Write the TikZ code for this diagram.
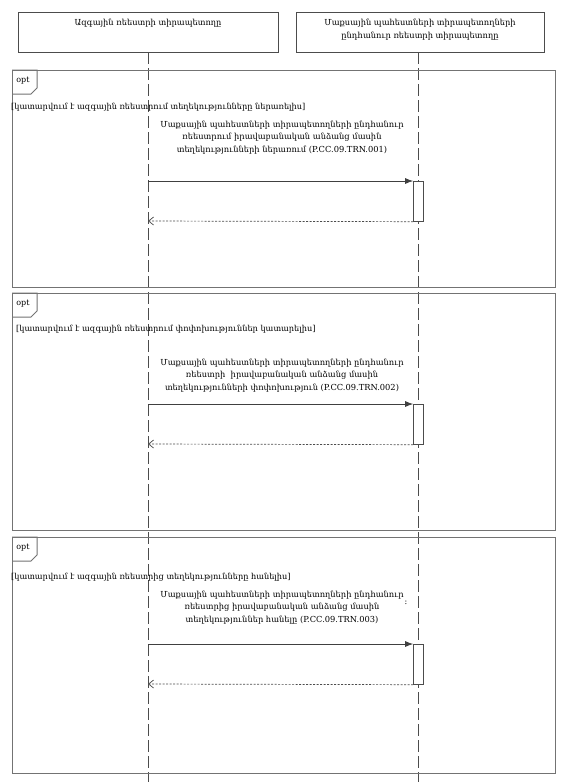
\documentclass[tikz,border=0pt]{standalone}
\usepackage{fontspec}
\setmainfont{DejaVu Serif}
\usetikzlibrary{arrows.meta,positioning,calc}
\tikzset{
  headbox/.style={draw=black!70, line width=0.8pt, minimum width=#1, minimum height=40pt, inner sep=0pt},
  headtext/.style={font=\fontsize{8.3}{13}\selectfont, align=center, inner sep=0pt},
  lifeline/.style={draw=black!70, line width=0.8pt, dash pattern=on 12pt off 4pt},
  fragbox/.style={draw=black!55, line width=1pt},
  optlabel/.style={font=\fontsize{8}{9}\selectfont, inner sep=0pt},
  guardtext/.style={font=\fontsize{8.2}{9}\selectfont, anchor=west, inner sep=0pt},
  msgtext/.style={font=\fontsize{8.3}{12.5}\selectfont, align=center, inner sep=0pt},
  actbox/.style={draw=black!70, fill=white, line width=0.7pt, minimum width=10pt, minimum height=40pt, inner sep=0pt},
  call/.style={-{Latex[length=8pt,width=6pt]}, draw=black!75, line width=0.8pt},
  reply/.style={-{Straight Barb[length=5pt,width=8pt]}, dash pattern=on 2pt off 1.5pt, draw=black!70, line width=0.7pt}
}
\begin{document}
\begin{tikzpicture}[x=1pt, y=-1pt]
  \useasboundingbox[fill=white] (0,0) rectangle (567,782);
  % participants
  \node[headbox=260pt] (hdrA) at (148,32) {};
  \node[headbox=248pt] (hdrB) at (420,32) {};
  \node[headtext, below=7pt of hdrA.north] (hdrAtext) {Ազգային ռեեստրի տիրապետողը};
  \node[headtext, below=7pt of hdrB.north] (hdrBtext) {Մաքսային պահեստների տիրապետողների\\ընդհանուր ռեեստրի տիրապետողը};
  \coordinate (endA) at (148,782);
  \coordinate (endB) at (418.5,782);
  \draw[lifeline] (hdrA.south) -- (endA);
  \draw[lifeline] (hdrB.south -| endB) -- (endB);

  % opt 1
  \draw[fragbox] (12,70) rectangle (555,287);
  \draw[fragbox] (12,70) -| (37,88) -- (31,94) -- (12,94);
  \node[optlabel] (opt1) at (23,81) {opt};
  \node[guardtext] (grd1) at (11,107) {[կատարվում է ազգային ռեեստրում տեղեկությունները ներառելիս]};
  \node[msgtext] (msg1) at (282,137.5) {Մաքսային պահեստների տիրապետողների ընդհանուր\\ռեեստրում իրավաբանական անձանց մասին\\տեղեկությունների ներառում (P.CC.09.TRN.001)};
  \node[actbox, anchor=north] (act1) at (418.5,181) {};
  \coordinate (src1) at (148,181);
  \coordinate (ret1) at (148,221);
  \draw[call] (src1) -- (act1.north west);
  \draw[reply] (act1.south west) -- (ret1);

  % opt 2
  \draw[fragbox] (12,293) rectangle (555,530);
  \draw[fragbox] (12,293) -| (37,311) -- (31,317) -- (12,317);
  \node[optlabel] (opt2) at (23,304) {opt};
  \node[guardtext] (grd2) at (16,329) {[կատարվում է ազգային ռեեստրում փոփոխություններ կատարելիս]};
  \node[msgtext] (msg2) at (282,375.5) {Մաքսային պահեստների տիրապետողների ընդհանուր\\ռեեստրի \ իրավաբանական անձանց մասին\\տեղեկությունների փոփոխություն (P.CC.09.TRN.002)};
  \node[actbox, anchor=north] (act2) at (418.5,404) {};
  \coordinate (src2) at (148,404);
  \coordinate (ret2) at (148,444);
  \draw[call] (src2) -- (act2.north west);
  \draw[reply] (act2.south west) -- (ret2);

  % opt 3
  \draw[fragbox] (12,537) rectangle (555,773);
  \draw[fragbox] (12,537) -| (37,555) -- (31,561) -- (12,561);
  \node[optlabel] (opt3) at (23,548) {opt};
  \node[guardtext] (grd3) at (11,577) {[կատարվում է ազգային ռեեստրից տեղեկությունները հանելիս]};
  \node[msgtext] (msg3) at (282,607.5) {Մաքսային պահեստների տիրապետողների ընդհանուր\\ռեեստրից իրավաբանական անձանց մասին\\տեղեկություններ հանելը (P.CC.09.TRN.003)};
  \node[optlabel] (mark3) at (406,603) {։};
  \node[actbox, anchor=north] (act3) at (418.5,644) {};
  \coordinate (src3) at (148,644);
  \coordinate (ret3) at (148,684);
  \draw[call] (src3) -- (act3.north west);
  \draw[reply] (act3.south west) -- (ret3);
\end{tikzpicture}
\end{document}
